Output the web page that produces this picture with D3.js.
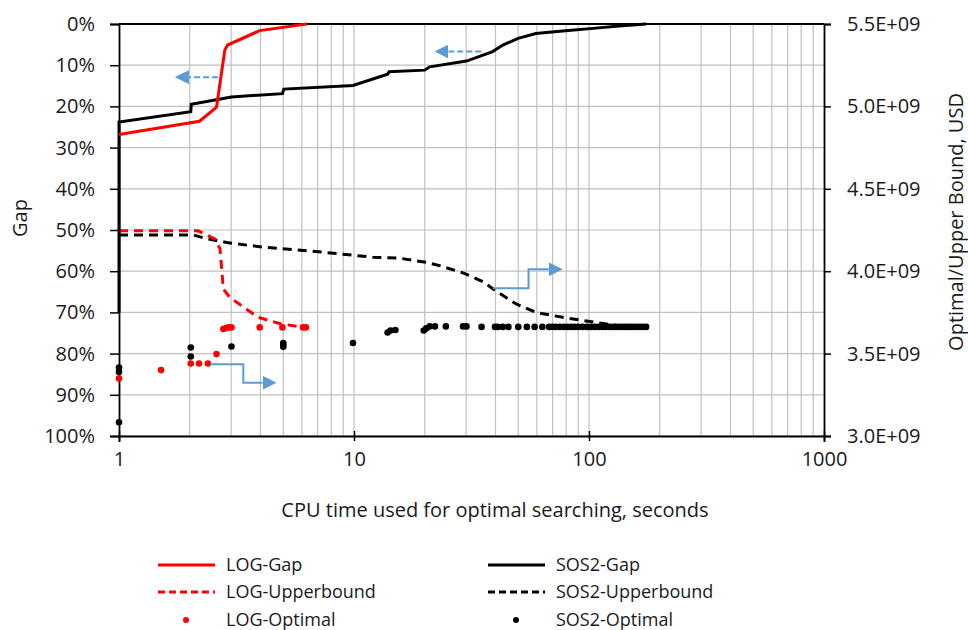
<!DOCTYPE html>
<meta charset="utf-8">
<script src="https://d3js.org/d3.v7.min.js"></script>
<style>
  body { margin: 0; background: #fff; font-family: 'Open Sans', sans-serif; }
  text { fill: #1a1a1a; }
  .grid line { stroke: #c0c0c0; stroke-width: 1.2; }
</style>
<div id="chart"></div>
<script>
// ---- data (time in seconds, gap as fraction, bound in USD/1e9) ----
var logGapT = [1, 2.2, 2.6, 2.82, 2.9, 3.97, 6.3];
var logGapV = [0.268, 0.236, 0.202, 0.063, 0.051, 0.016, 0];

var sos2GapT = [1, 1, 2.02, 2.03, 3.01, 4.96, 5.03, 9.9, 13.9, 14.1, 20, 21, 30.1, 38.9, 43, 49.9, 59.4, 77.3, 107, 134, 175];
var sos2GapV = [0.70, 0.238, 0.213, 0.195, 0.177, 0.169, 0.158, 0.149, 0.122, 0.116, 0.112, 0.104, 0.090, 0.067, 0.051, 0.035, 0.023, 0.017, 0.010, 0.005, 0.0];

var logUbT = [1, 2.17, 2.56, 2.69, 2.78, 2.96, 3.91, 4.9, 6.2];
var logUbV = [4.245, 4.245, 4.196, 4.136, 3.892, 3.841, 3.720, 3.680, 3.659];

var sos2UbT = [1, 2.07, 2.32, 2.92, 4.17, 7.4, 12.05, 15.6, 20.3, 23.1, 29.1, 35.3, 40, 49, 59.4, 77.3, 107, 134, 175];
var sos2UbV = [4.22, 4.22, 4.20, 4.172, 4.145, 4.115, 4.085, 4.079, 4.054, 4.034, 3.99, 3.937, 3.882, 3.801, 3.75, 3.72, 3.689, 3.669, 3.659];

var logOptT = [1, 1.51, 2.02, 2.19, 2.39, 2.6, 2.78, 2.85, 2.92, 3.01, 3.97, 4.96, 6.07, 6.24];
var logOptV = [3.349, 3.40, 3.44, 3.44, 3.44, 3.497, 3.649, 3.655, 3.659, 3.659, 3.659, 3.659, 3.659, 3.659];

var sos2OptT = [1, 1, 1, 2.02, 2.02, 3.01, 5, 5, 5, 9.9, 13.9, 14.3, 15, 19.8, 20.3, 21, 22.1, 24.6, 29.1, 30.1, 34.9,
  39.8, 40.9, 43, 45.4, 50, 54.4, 58.7, 63.3, 67.6, 69.8, 72, 75, 78, 81, 84, 87, 90, 94, 98, 102, 106, 110, 114,
  118, 122, 126, 130, 134, 138, 142, 146, 150, 155, 160, 165, 170, 175];
var sos2OptV = [3.415, 3.389, 3.083, 3.537, 3.482, 3.543, 3.564, 3.552, 3.541, 3.564, 3.628, 3.64, 3.643, 3.64, 3.653, 3.665, 3.665, 3.665, 3.665, 3.665, 3.662,
  3.662, 3.662, 3.662, 3.662, 3.662, 3.662, 3.662, 3.662, 3.662, 3.662, 3.662, 3.662, 3.662, 3.662, 3.662, 3.662, 3.662, 3.662, 3.662, 3.662, 3.662, 3.662, 3.662,
  3.662, 3.662, 3.662, 3.662, 3.662, 3.662, 3.662, 3.662, 3.662, 3.662, 3.662, 3.662, 3.662, 3.662];

var gapTicks = [0, 0.1, 0.2, 0.3, 0.4, 0.5, 0.6, 0.7, 0.8, 0.9, 1];
var boundTicks = [5.5, 5.0, 4.5, 4.0, 3.5, 3.0];
var timeTicks = [1, 10, 100, 1000];

// annotation arrows, in (time, gap) units
var arrowLogGap = [[2.64, 0.129], [1.73, 0.129]];
var arrowSosGap = [[34.8, 0.067], [22.0, 0.067]];
var arrowLogUb = [[2.44, 0.826], [3.38, 0.826], [3.38, 0.871], [4.68, 0.871]];
var arrowSosUb = [[39.0, 0.6415], [55.3, 0.6415], [55.3, 0.5954], [77.3, 0.5954]];

var W = 968, H = 630;
var mLeft = 119, mRight = 824, mTop = 24, mBottom = 436;

var svg = d3.select("#chart").append("svg")
    .attr("width", W).attr("height", H);

var x = d3.scaleLog().domain([1, 1000]).range([mLeft, mRight]);
var y = d3.scaleLinear().domain([0, 1]).range([mTop, mBottom]);
var y2 = d3.scaleLinear().domain([5.5, 3.0]).range([mTop, mBottom]);

// gridlines
var minor = [];
[1, 10, 100].forEach(function(d) { for (var k = 2; k <= 9; k++) minor.push(d * k); });
minor.push(10, 100);
var grid = svg.append("g").attr("class", "grid");
grid.selectAll(".v").data(minor).enter().append("line")
    .attr("x1", function(d) { return x(d); }).attr("x2", function(d) { return x(d); })
    .attr("y1", mTop).attr("y2", mBottom);
grid.selectAll(".h").data(gapTicks).enter().append("line")
    .attr("x1", mLeft).attr("x2", mRight)
    .attr("y1", function(d) { return y(d); }).attr("y2", function(d) { return y(d); });

// axes
var yAxis = svg.append("g").attr("transform", "translate(" + mLeft + ",0)")
    .call(d3.axisLeft(y).tickValues(gapTicks).tickFormat(d3.format(".0%")).tickSize(9).tickPadding(15));
var y2Axis = svg.append("g").attr("transform", "translate(" + mRight + ",0)")
    .call(d3.axisRight(y2).tickValues(boundTicks).tickFormat(function(d) { return d.toFixed(1) + "E+09"; }).tickSize(7).tickPadding(16));
var xAxis = svg.append("g").attr("transform", "translate(0," + mBottom + ")")
    .call(d3.axisBottom(x).tickValues(timeTicks).tickFormat(d3.format("d")).tickSize(6).tickPadding(10));
xAxis.selectAll(".tick line").attr("y1", -5).attr("y2", 5);

[yAxis, y2Axis, xAxis].forEach(function(a) {
  a.select(".domain").attr("stroke", "#000").attr("stroke-width", 1.8);
  a.selectAll(".tick line").attr("stroke", "#000").attr("stroke-width", 1.5);
  a.selectAll("text").style("font-family", "'Open Sans', sans-serif").style("font-size", "20px").attr("fill", "#1a1a1a");
});
svg.append("line").attr("x1", mLeft).attr("x2", mRight).attr("y1", mTop).attr("y2", mTop)
    .attr("stroke", "#000").attr("stroke-width", 1.8);

// axis titles
svg.append("text").attr("transform", "translate(27,218) rotate(-90)")
    .attr("text-anchor", "middle").style("font-size", "20px").text("Gap");
svg.append("text").attr("transform", "translate(963,222) rotate(-90)")
    .attr("text-anchor", "middle").style("font-size", "20px").text("Optimal/Upper Bound, USD");
svg.append("text").attr("x", 495).attr("y", 517)
    .attr("text-anchor", "middle").style("font-size", "20px").text("CPU time used for optimal searching, seconds");

// series
function pts(ts, vs, yy) { return ts.map(function(t, i) { return [x(t), yy(vs[i])]; }); }
var line = d3.line();

svg.append("path").attr("d", line(pts(sos2UbT, sos2UbV, y2)))
    .attr("fill", "none").attr("stroke", "#000").attr("stroke-width", 3).attr("stroke-dasharray", "9,6");
svg.append("path").attr("d", line(pts(logUbT, logUbV, y2)))
    .attr("fill", "none").attr("stroke", "#ff0000").attr("stroke-width", 3).attr("stroke-dasharray", "9,6");
svg.append("path").attr("d", line(pts(sos2GapT, sos2GapV, y)))
    .attr("fill", "none").attr("stroke", "#000").attr("stroke-width", 3);
svg.append("path").attr("d", line(pts(logGapT, logGapV, y)))
    .attr("fill", "none").attr("stroke", "#ff0000").attr("stroke-width", 3);

svg.append("g").selectAll("circle").data(pts(sos2OptT, sos2OptV, y2)).enter().append("circle")
    .attr("cx", function(d) { return d[0]; }).attr("cy", function(d) { return d[1]; })
    .attr("r", 3.3).attr("fill", "#000");
svg.append("g").selectAll("circle").data(pts(logOptT, logOptV, y2)).enter().append("circle")
    .attr("cx", function(d) { return d[0]; }).attr("cy", function(d) { return d[1]; })
    .attr("r", 3.3).attr("fill", "#ff0000");

// arrows
var blue = "#5b9bd5";
svg.append("defs").append("marker").attr("id", "head")
    .attr("viewBox", "0 0 10 10").attr("refX", 0).attr("refY", 5)
    .attr("markerWidth", 7).attr("markerHeight", 7).attr("markerUnits", "strokeWidth")
    .attr("orient", "auto")
  .append("path").attr("d", "M0,0L10,5L0,10Z").attr("fill", blue);

function arrow(a, dashed) {
  var p = a.map(function(d) { return [x(d[0]), y(d[1])]; });
  // shorten last segment so the head ends at the tip
  var n = p.length, dx = p[n - 1][0] - p[n - 2][0], dy = p[n - 1][1] - p[n - 2][1];
  var len = Math.sqrt(dx * dx + dy * dy);
  p[n - 1] = [p[n - 1][0] - dx / len * 14, p[n - 1][1] - dy / len * 14];
  svg.append("path").attr("d", line(p)).attr("fill", "none")
      .attr("stroke", blue).attr("stroke-width", 2)
      .attr("stroke-dasharray", dashed ? "6,3" : null)
      .attr("marker-end", "url(#head)");
}
arrow(arrowLogGap, true);
arrow(arrowSosGap, true);
arrow(arrowLogUb, false);
arrow(arrowSosUb, false);

// legend
var legend = [
  {name: "LOG-Gap", col: "#ff0000", type: "solid", lx: 158, ly: 565},
  {name: "LOG-Upperbound", col: "#ff0000", type: "dash", lx: 158, ly: 592},
  {name: "LOG-Optimal", col: "#ff0000", type: "dot", lx: 158, ly: 620},
  {name: "SOS2-Gap", col: "#000", type: "solid", lx: 488, ly: 565},
  {name: "SOS2-Upperbound", col: "#000", type: "dash", lx: 488, ly: 592},
  {name: "SOS2-Optimal", col: "#000", type: "dot", lx: 488, ly: 620}
];
var lg = svg.append("g").selectAll("g").data(legend).enter().append("g")
    .attr("transform", function(d) { return "translate(" + d.lx + "," + d.ly + ")"; });
lg.filter(function(d) { return d.type !== "dot"; }).append("line")
    .attr("x1", 0).attr("x2", 57).attr("stroke", function(d) { return d.col; })
    .attr("stroke-width", 3).attr("stroke-dasharray", function(d) { return d.type === "dash" ? "7,4" : null; });
lg.filter(function(d) { return d.type === "dot"; }).append("circle")
    .attr("cx", 28).attr("r", 3).attr("fill", function(d) { return d.col; });
lg.append("text").attr("x", 68).attr("dy", "0.35em").style("font-size", "18px").text(function(d) { return d.name; });
</script>
